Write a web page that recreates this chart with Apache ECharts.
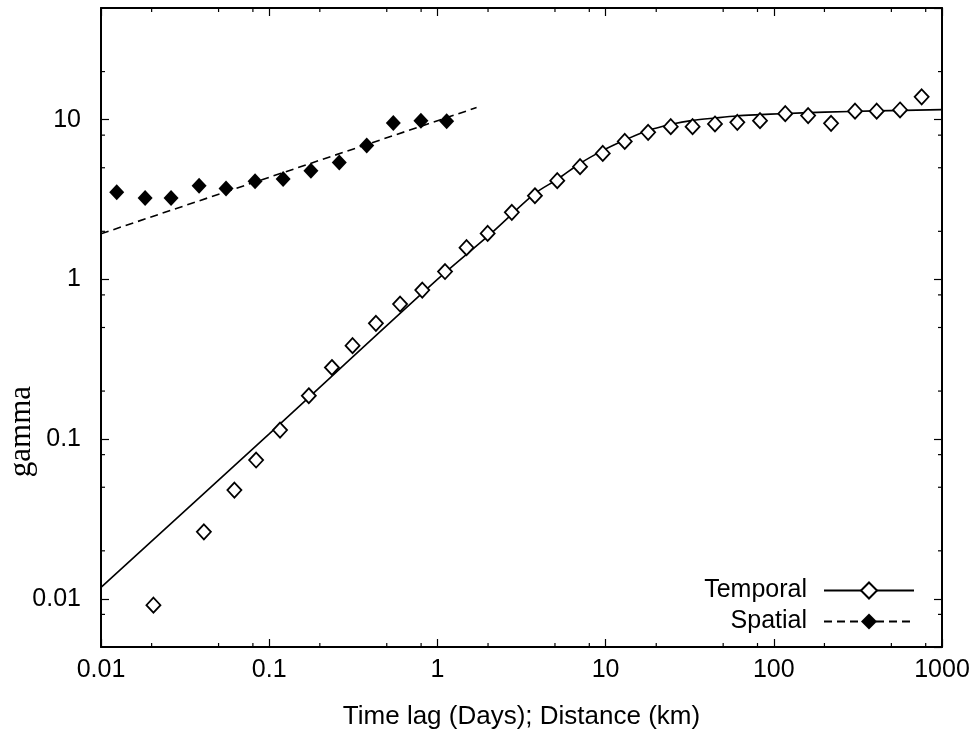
<!DOCTYPE html>
<html>
<head>
<meta charset="utf-8">
<script src="https://cdn.jsdelivr.net/npm/echarts@6/dist/echarts.min.js"></script>
<style>html,body{margin:0;padding:0;background:#fff}#c{width:973px;height:736px}</style>
</head>
<body>
<div id="c"></div>
<script>
// ---- data ----
var temporalX = [0.0205,0.0409,0.0621,0.0836,0.116,0.172,0.236,0.313,0.431,0.600,0.813,1.11,1.49,1.99,2.77,3.80,5.16,7.05,9.62,13.0,17.9,24.4,32.9,44.7,60.7,82.8,117,160,219,304,409,563,757];
var temporalY = [0.00914,0.0263,0.048,0.074,0.114,0.187,0.281,0.385,0.531,0.701,0.857,1.12,1.58,1.94,2.63,3.34,4.15,5.08,6.15,7.31,8.33,9.04,9.04,9.40,9.62,9.86,10.9,10.6,9.48,11.3,11.3,11.5,13.9];
var temporalFitX = [0.01,0.1,1,2.06,3.8,5.2,7.0,9.6,13,17.5,25,33,45,60,83,110,200,400,1000];
var temporalFitY = [0.0118,0.108,1.0,1.92,3.45,4.25,5.3,6.4,7.45,8.5,9.4,9.9,10.25,10.55,10.75,10.9,11.15,11.35,11.55];
var spatialX = [0.0124,0.0183,0.0261,0.0383,0.0554,0.0824,0.121,0.177,0.261,0.380,0.547,0.798,1.135];
var spatialY = [3.51,3.23,3.23,3.86,3.71,4.11,4.25,4.79,5.40,6.88,9.53,9.86,9.76];
var spatialFitX = [0.01,1.71];
var spatialFitY = [1.93,11.9];
var xTickLabels = {'0.01':'0.01','0.1':'0.1','1':'1','10':'10','100':'100','1000':'1000'};
var yTickLabels = {'0.01':'0.01','0.1':'0.1','1':'1','10':'10'};
var xMinorTicks = [0.02,0.05,0.08,0.2,0.5,0.8,2,5,8,20,50,80,200,500,800];
var yMinorTicks = [0.008,0.02,0.05,0.08,0.2,0.5,0.8,2,5,8,20];

function zip(a,b){return a.map(function(v,i){return [v,b[i]];});}
function fmt(map){return function(v){var k=String(+v.toPrecision(6));return map[k]!==undefined?map[k]:'';};}

var FONT = 'Liberation Sans, Arial, sans-serif';
var chart = echarts.init(document.getElementById('c'), null, {renderer:'canvas'});
var axisCommon = {
  axisLine:{show:true,lineStyle:{color:'#000',width:2}},
  axisTick:{show:true,inside:true,length:8,lineStyle:{color:'#000',width:1.2}},
  splitLine:{show:false},
  minorTick:{show:false}
};
var openDiamond = {color:'#fff',borderColor:'#000',borderWidth:1.8,opacity:1};
var filledDiamond = {color:'#000',opacity:1};
var tickData = xMinorTicks.map(function(v){return [v,1,0];}).concat(yMinorTicks.map(function(v){return [1,v,1];}));

chart.setOption({
  animation:false,
  grid:{left:101,right:31,top:8,bottom:89,containLabel:false},
  xAxis:[
    Object.assign({type:'log',logBase:10,min:0.01,max:1000,position:'bottom',
      name:'Time lag (Days); Distance (km)',nameLocation:'middle',nameGap:57,
      nameTextStyle:{fontFamily:FONT,fontSize:26,color:'#000'},
      axisLabel:{formatter:fmt(xTickLabels),fontFamily:FONT,fontSize:25,color:'#000',margin:11}},axisCommon),
    Object.assign({type:'log',logBase:10,min:0.01,max:1000,position:'top',axisLabel:{show:false}},axisCommon)
  ],
  yAxis:[
    Object.assign({type:'log',logBase:10,min:0.005,max:50,position:'left',
      axisLabel:{formatter:fmt(yTickLabels),fontFamily:FONT,fontSize:25,color:'#000',margin:20,showMinLabel:false,showMaxLabel:false}},axisCommon),
    Object.assign({type:'log',logBase:10,min:0.005,max:50,position:'right',axisLabel:{show:false}},axisCommon)
  ],
  legend:{
    data:['Temporal','Spatial'],
    orient:'vertical',right:53,top:573,align:'right',
    itemWidth:90,itemHeight:20,itemGap:6,
    textStyle:{fontFamily:FONT,fontSize:25,color:'#000',padding:[0,12,0,0]}
  },
  graphic:[{
    type:'text',left:6,top:386,rotation:Math.PI/2,
    style:{text:'gamma',font:'31px "Liberation Serif", "Times New Roman", serif',fill:'#000'}
  }],
  series:[
    {name:'Temporal',type:'line',data:zip(temporalFitX,temporalFitY),smooth:0.3,
      symbol:'diamond',symbolSize:14,showSymbol:false,
      lineStyle:{color:'#000',width:1.6},itemStyle:openDiamond,z:2},
    {name:'Temporal',type:'scatter',data:zip(temporalX,temporalY),symbol:'diamond',symbolSize:[14,15],
      itemStyle:openDiamond,z:3},
    {name:'Spatial',type:'line',data:zip(spatialFitX,spatialFitY),
      symbol:'diamond',symbolSize:14,showSymbol:false,
      lineStyle:{color:'#000',width:1.6,type:[8,5]},itemStyle:filledDiamond,z:2},
    {name:'Spatial',type:'scatter',data:zip(spatialX,spatialY),symbol:'diamond',symbolSize:[15,16],
      itemStyle:filledDiamond,z:3},
    {name:'minor',type:'custom',data:tickData,silent:true,clip:false,
      renderItem:function(params,api){
        var cs=params.coordSys, L=4, lines=[];
        if(api.value(2)===0){
          var x=api.coord([api.value(0),1])[0];
          lines.push([[x,cs.y+cs.height],[x,cs.y+cs.height-L]],[[x,cs.y],[x,cs.y+L]]);
        } else {
          var y=api.coord([1,api.value(1)])[1];
          lines.push([[cs.x,y],[cs.x+L,y]],[[cs.x+cs.width,y],[cs.x+cs.width-L,y]]);
        }
        return {type:'group',children:lines.map(function(p){
          return {type:'line',shape:{x1:p[0][0],y1:p[0][1],x2:p[1][0],y2:p[1][1]},style:{stroke:'#000',lineWidth:1.2}};
        })};
      }}
  ]
});
</script>
</body>
</html>
